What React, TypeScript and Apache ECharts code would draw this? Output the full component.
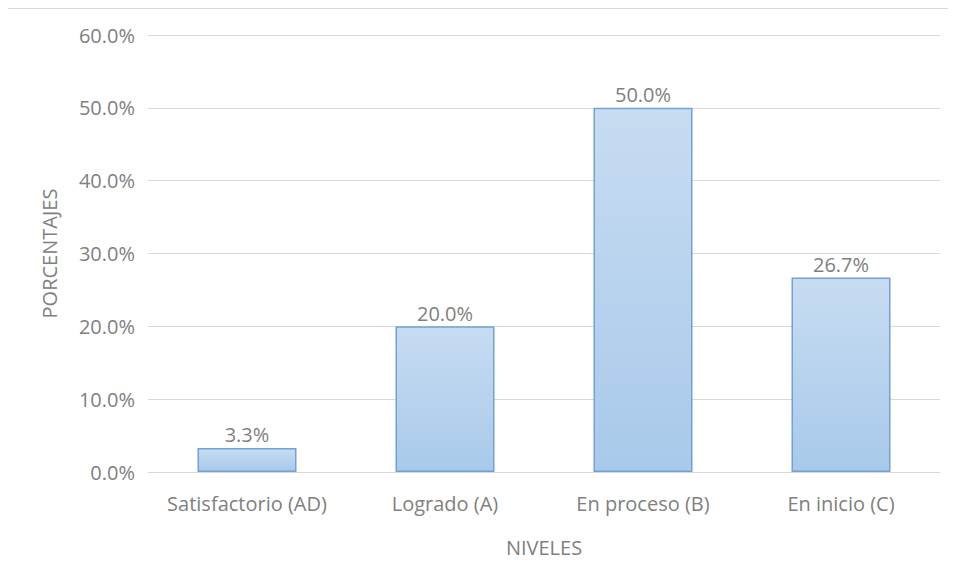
import React, { useEffect, useRef } from "react";
import * as echarts from "echarts";

const categories = ["Satisfactorio (AD)", "Logrado (A)", "En proceso (B)", "En inicio (C)"];
const values = [3.3, 20.0, 50.0, 26.7];
const yTicks = [0, 10, 20, 30, 40, 50, 60];
const yAxisTitle = "PORCENTAJES";
const xAxisTitle = "NIVELES";

const FONT = "'Open Sans', 'Noto Sans', sans-serif";
const TEXT = "#808080";
const FS = 20;

export default function App() {
  const ref = useRef<HTMLDivElement>(null);
  useEffect(() => {
    if (!ref.current) return;
    const chart = echarts.init(ref.current, undefined, { renderer: "svg" });
    chart.setOption({
      animation: false,
      textStyle: { fontFamily: FONT },
      grid: { left: 140, top: 26, right: 15, bottom: 109, containLabel: false },
      xAxis: {
        type: "category",
        data: categories,
        name: xAxisTitle,
        nameLocation: "middle",
        nameGap: 65,
        nameTextStyle: { color: TEXT, fontSize: FS, fontFamily: FONT },
        axisLine: { show: true, lineStyle: { color: "#d9d9d9", width: 1 } },
        axisTick: { show: false },
        axisLabel: { color: TEXT, fontSize: FS, margin: 21, interval: 0, hideOverlap: false, fontFamily: FONT },
      },
      yAxis: {
        type: "value",
        min: yTicks[0],
        max: yTicks[yTicks.length - 1],
        interval: 10,
        name: yAxisTitle,
        nameLocation: "middle",
        nameGap: 89,
        nameRotate: 90,
        nameTextStyle: { color: TEXT, fontSize: FS, fontFamily: FONT },
        axisLine: { show: false },
        axisTick: { show: false },
        axisLabel: {
          color: TEXT,
          fontSize: FS,
          margin: 13,
          fontFamily: FONT,
          formatter: (v: number) => v.toFixed(1) + "%",
        },
        splitLine: { lineStyle: { color: "#d9d9d9", width: 1 } },
      },
      series: [
        {
          type: "bar",
          data: values,
          barWidth: "50%",
          itemStyle: {
            color: new echarts.graphic.LinearGradient(0, 0, 0, 1, [
              { offset: 0, color: "#c7dcf1" },
              { offset: 1, color: "#a8c9ea" },
            ]),
            borderColor: "#6fa2d8",
            borderWidth: 1.5,
          },
          label: {
            show: true,
            position: "top",
            distance: 3,
            color: TEXT,
            fontSize: FS,
            fontFamily: FONT,
            formatter: (p: any) => Number(p.value).toFixed(1) + "%",
          },
        },
      ],
    });
    return () => chart.dispose();
  }, []);
  return (
    <div
      style={{
        width: 948,
        height: 573,
        borderLeft: "1px solid #d9d9d9",
        borderTop: "1px solid #d9d9d9",
        boxSizing: "border-box",
        marginLeft: -1,
      }}
    >
      <div ref={ref} style={{ width: 947, height: 572 }} />
    </div>
  );
}
